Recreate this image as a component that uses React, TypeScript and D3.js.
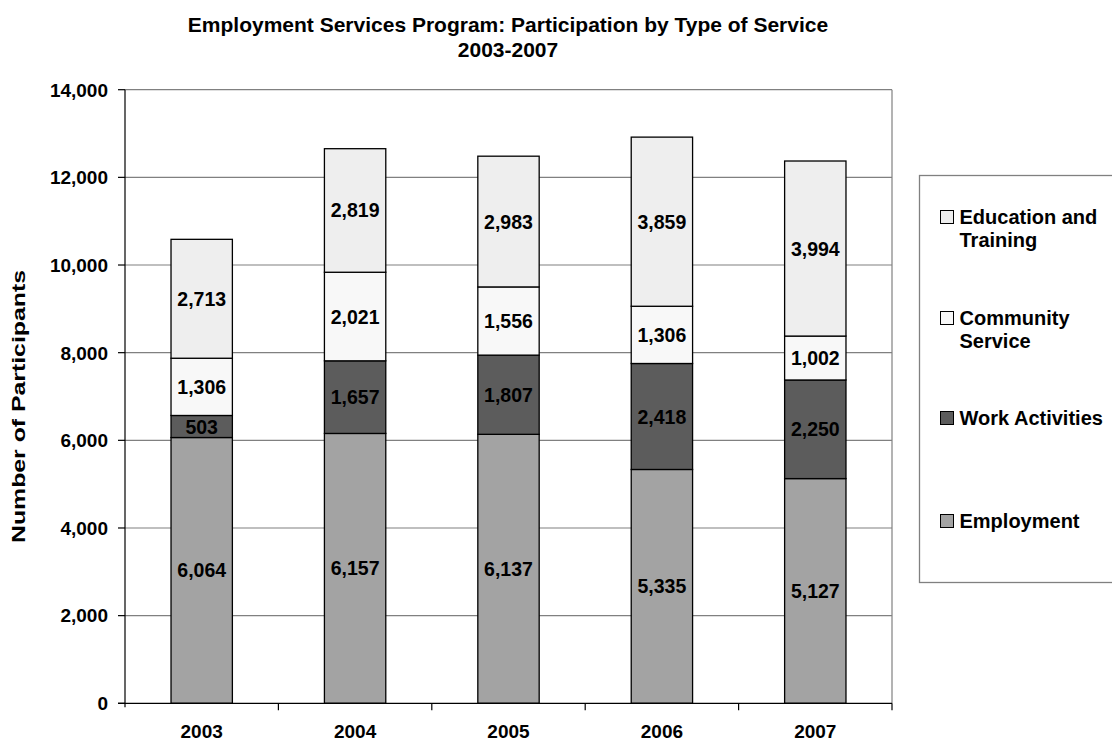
import React, { useEffect, useRef } from "react";
import * as d3 from "d3";

const years = ["2003", "2004", "2005", "2006", "2007"];
const employment = [6064, 6157, 6137, 5335, 5127];
const workActivities = [503, 1657, 1807, 2418, 2250];
const communityService = [1306, 2021, 1556, 1306, 1002];
const educationTraining = [2713, 2819, 2983, 3859, 3994];
const seriesNames = ["Employment", "Work Activities", "Community Service", "Education and Training"];
const seriesColors = ["#a3a3a3", "#5c5c5c", "#f8f8f8", "#eeeeee"];
const yTicks = [0, 2000, 4000, 6000, 8000, 10000, 12000, 14000];

export default function App() {
  const ref = useRef<SVGSVGElement>(null);
  useEffect(() => {
    const svg = d3.select(ref.current);
    svg.selectAll("*").remove();
    const W = 1112, H = 742;
    const left = 125, right = 892, top = 89.7, bottom = 703.3;
    const font = "'Liberation Sans', Arial, sans-serif";

    const x = d3.scaleBand().domain(years).range([left, right]).paddingInner(0.6).paddingOuter(0.3);
    const xb = d3.scaleBand().domain(years).range([left, right]);
    const y = d3.scaleLinear().domain([0, 14000]).range([bottom, top]);

    svg.append("rect").attr("width", W).attr("height", H).attr("fill", "#fff");

    svg.append("g").selectAll("line").data(yTicks.filter(t => t > 0)).join("line")
      .attr("x1", left).attr("x2", right).attr("y1", d => y(d)).attr("y2", d => y(d))
      .attr("stroke", "#808080").attr("stroke-width", 1.2);
    svg.append("line").attr("x1", right).attr("x2", right).attr("y1", top).attr("y2", bottom)
      .attr("stroke", "#808080").attr("stroke-width", 1.2);

    const table = years.map((yr, i) => ({
      year: yr,
      "Employment": employment[i],
      "Work Activities": workActivities[i],
      "Community Service": communityService[i],
      "Education and Training": educationTraining[i],
    }));
    const stacked = d3.stack<any>().keys(seriesNames)(table);

    stacked.forEach((s, si) => {
      svg.append("g").selectAll("rect").data(s).join("rect")
        .attr("x", (d: any) => x(d.data.year)!)
        .attr("width", x.bandwidth())
        .attr("y", (d: any) => y(d[1]))
        .attr("height", (d: any) => y(d[0]) - y(d[1]))
        .attr("fill", seriesColors[si])
        .attr("stroke", "#000").attr("stroke-width", 1.3);
    });
    stacked.forEach((s) => {
      svg.append("g").selectAll("text").data(s).join("text")
        .attr("x", (d: any) => x(d.data.year)! + x.bandwidth() / 2)
        .attr("y", (d: any) => (y(d[0]) + y(d[1])) / 2)
        .attr("dy", "0.36em")
        .attr("text-anchor", "middle")
        .attr("font-family", font).attr("font-weight", "bold").attr("font-size", 19.5)
        .attr("fill", "#000")
        .text((d: any) => d3.format(",")(d[1] - d[0]));
    });

    svg.append("line").attr("x1", left).attr("x2", left).attr("y1", top).attr("y2", bottom + 4)
      .attr("stroke", "#000").attr("stroke-width", 1.2);
    svg.append("line").attr("x1", left - 7).attr("x2", right).attr("y1", bottom).attr("y2", bottom)
      .attr("stroke", "#000").attr("stroke-width", 1.2);
    svg.append("g").selectAll("line").data(yTicks).join("line")
      .attr("x1", left - 7).attr("x2", left).attr("y1", d => y(d)).attr("y2", d => y(d))
      .attr("stroke", "#000").attr("stroke-width", 1.2);
    svg.append("g").selectAll("text").data(yTicks).join("text")
      .attr("x", left - 17).attr("y", d => y(d)).attr("dy", "0.36em")
      .attr("text-anchor", "end")
      .attr("font-family", font).attr("font-weight", "bold").attr("font-size", 19)
      .text(d => d3.format(",")(d));
    const bounds = years.slice(1).map(yr => xb(yr)!).concat([right]);
    svg.append("g").selectAll("line").data(bounds).join("line")
      .attr("x1", d => d).attr("x2", d => d).attr("y1", bottom).attr("y2", bottom + 7)
      .attr("stroke", "#000").attr("stroke-width", 1.2);
    svg.append("g").selectAll("text").data(years).join("text")
      .attr("x", d => xb(d)! + xb.bandwidth() / 2).attr("y", 737.5)
      .attr("text-anchor", "middle")
      .attr("font-family", font).attr("font-weight", "bold").attr("font-size", 19)
      .text(d => d);

    svg.append("text")
      .attr("transform", `translate(19,${(270 + 543) / 2}) rotate(-90)`)
      .attr("text-anchor", "middle").attr("dy", "0.36em")
      .attr("font-family", font).attr("font-weight", "bold").attr("font-size", 18)
      .attr("textLength", 273).attr("lengthAdjust", "spacingAndGlyphs")
      .text("Number of Participants");

    const title = svg.append("text").attr("text-anchor", "middle")
      .attr("font-family", font).attr("font-weight", "bold").attr("font-size", 21);
    title.append("tspan").attr("x", 508).attr("y", 32).text("Employment Services Program: Participation by Type of Service");
    title.append("tspan").attr("x", 508).attr("y", 57).text("2003-2007");

    svg.append("rect").attr("x", 919.5).attr("y", 175.5).attr("width", 200).attr("height", 407)
      .attr("fill", "#fff").attr("stroke", "#808080").attr("stroke-width", 1.3);
    const legendItems = [
      { idx: 3, lines: ["Education and", "Training"], y: 217 },
      { idx: 2, lines: ["Community", "Service"], y: 318 },
      { idx: 1, lines: ["Work Activities"], y: 418 },
      { idx: 0, lines: ["Employment"], y: 521 },
    ];
    legendItems.forEach(it => {
      svg.append("rect").attr("x", 940.5).attr("y", it.y - 6.5).attr("width", 13).attr("height", 13)
        .attr("fill", seriesColors[it.idx]).attr("stroke", "#000").attr("stroke-width", 1);
      const t = svg.append("text").attr("font-family", font).attr("font-weight", "bold").attr("font-size", 20);
      it.lines.forEach((ln, li) => {
        t.append("tspan").attr("x", 959.5).attr("y", it.y + li * 23).attr("dy", "0.36em").text(ln);
      });
    });
  }, []);
  return (
    <div style={{ position: "absolute", left: 0, top: 0, width: 1112, height: 742, overflow: "hidden" }}>
      <svg ref={ref} width={1112} height={742} style={{ display: "block" }} />
    </div>
  );
}
